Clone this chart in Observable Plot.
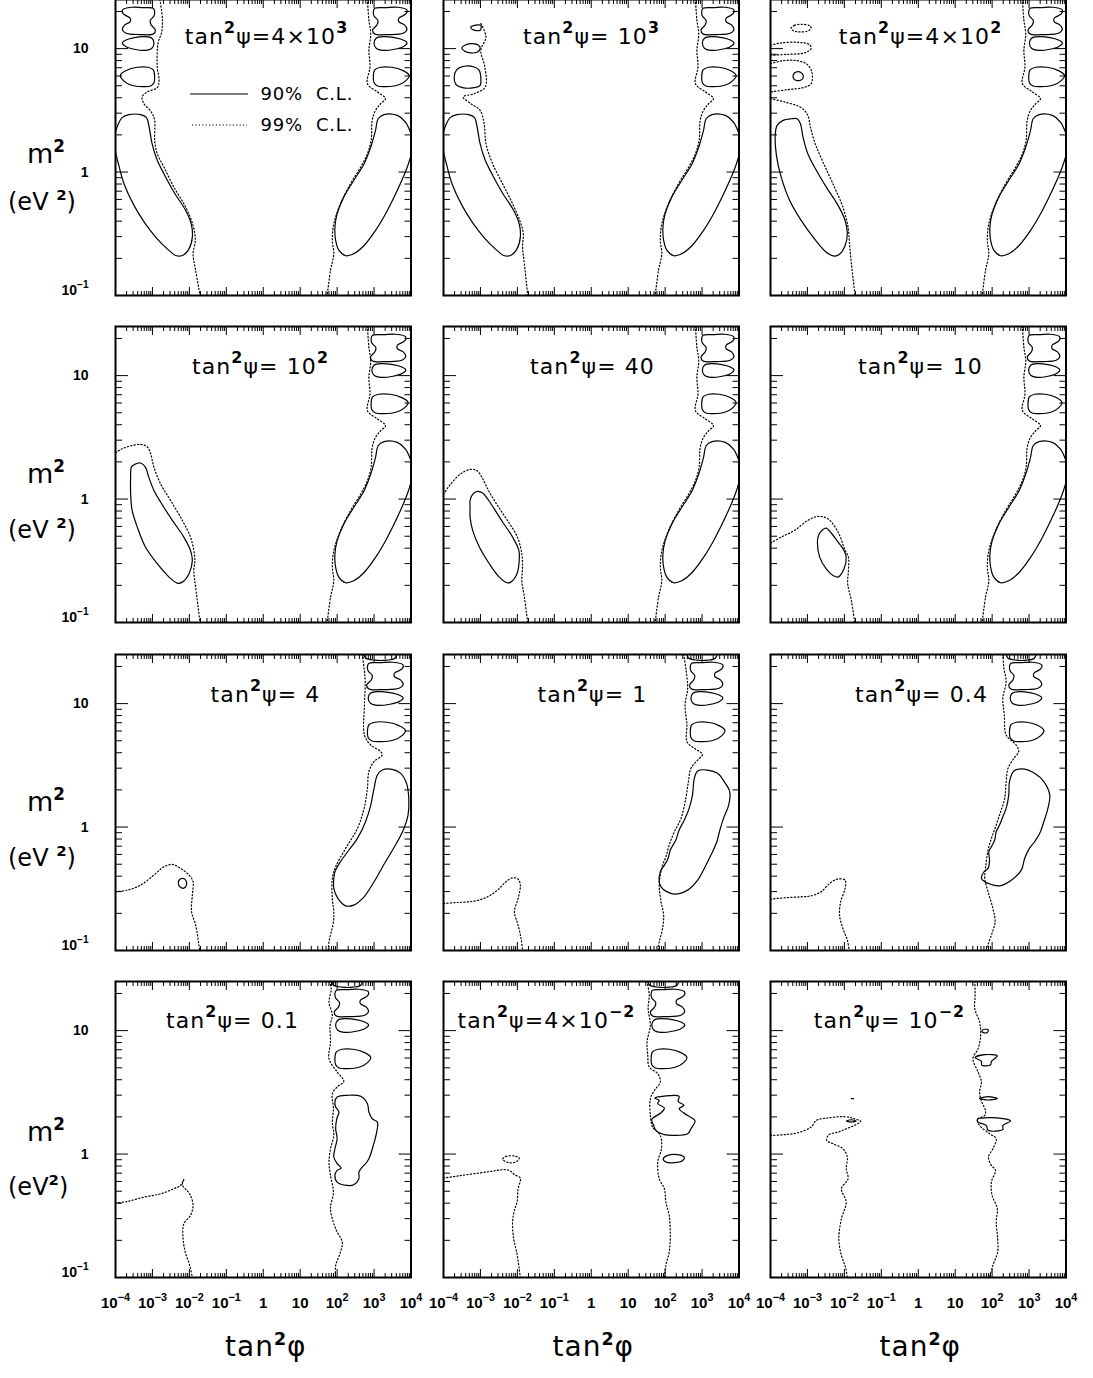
<!DOCTYPE html>
<html><head><meta charset="utf-8">
<script src="https://cdn.jsdelivr.net/npm/d3@7"></script>
<script src="https://cdn.jsdelivr.net/npm/@observablehq/plot@0.6"></script>
<style>
html,body{margin:0;padding:0;background:#fff;}
#chart{position:relative;width:1093px;height:1378px;overflow:hidden;background:#fff;}
</style></head><body><div id="chart"></div>
<script>
// ---------------- DATA (contour points as [log10(tan²φ), log10(m²/eV²)]) ----------------
const panelTitles = ["tan{2}ψ=4×10{3}","tan{2}ψ= 10{3}","tan{2}ψ=4×10{2}","tan{2}ψ= 10{2}","tan{2}ψ= 40","tan{2}ψ= 10",
  "tan{2}ψ= 4","tan{2}ψ= 1","tan{2}ψ= 0.4","tan{2}ψ= 0.1","tan{2}ψ=4×10{−2}","tan{2}ψ= 10{−2}"];
const xMajor = [1e-4,1e-3,1e-2,1e-1,1,10,1e2,1e3,1e4];
const xTickLabels = ["10{−4}","10{−3}","10{−2}","10{−1}","1","10","10{2}","10{3}","10{4}"];
const yMajor = [0.1,1,10];
const yTickLabels = ["10{−1}","1","10"];
const minorMult = [2,3,4,5,6,7,8,9];
const legendLabels = ["90%  C.L.","99%  C.L."];

// shared shapes
const bandLeft12 = [[-4.0,.324],[-3.94,.378],[-3.82,.441],[-3.64,.465],[-3.32,.465],[-3.16,.441],[-3.09,.365],[-3.01,.230],[-2.87,.095],[-2.69,-.014],[-2.42,-.162],[-2.10,-.311],[-1.95,-.419],[-1.92,-.527],[-2.01,-.622],[-2.19,-.676],[-2.37,-.676],[-2.60,-.622],[-2.87,-.541],[-3.19,-.419],[-3.50,-.270],[-3.77,-.095],[-3.91,.054],[-4.0,.162]];
const bandRight16 = [[4.0,.311],[3.85,.405],[3.63,.459],[3.27,.465],[3.11,.432],[3.04,.338],[2.91,.203],[2.73,.068],[2.45,-.068],[2.18,-.203],[2.00,-.338],[1.94,-.446],[1.96,-.554],[2.05,-.635],[2.23,-.678],[2.45,-.662],[2.73,-.595],[3.04,-.473],[3.36,-.311],[3.67,-.122],[3.90,.041],[4.0,.135]];
const dotRight16 = [[2.82,1.40],[2.86,1.23],[2.91,1.12],[2.86,.986],[2.89,.851],[2.82,.716],[3.09,.649],[3.31,.595],[3.18,.554],[3.04,.50],[2.95,.419],[2.92,.257],[2.82,.149],[2.64,.041],[2.36,-.095],[2.09,-.257],[1.91,-.419],[1.87,-.554],[1.91,-.662],[1.82,-.797],[1.73,-1.0]];
// island templates: [fraction across island width, log10 m²]
const islandA = [[0,.773],[.04,.827],[.20,.849],[.51,.849],[.83,.822],[1.0,.784],[.91,.741],[.67,.703],[.35,.692],[.12,.697],[.02,.724]];
const islandB = [[.02,1.043],[.08,1.084],[.28,1.097],[.59,1.089],[.83,1.070],[.94,1.046],[.83,1.016],[.59,.995],[.28,.986],[.08,1.003]];
const islandC = [[.04,1.327],[.35,1.332],[.67,1.335],[.94,1.313],[.91,1.281],[.71,1.246],[.71,1.219],[.87,1.192],[.94,1.157],[.83,1.124],[.43,1.114],[.04,1.119],[-.02,1.151],[.10,1.192],[.13,1.227],[.02,1.265],[0,1.30]];
const islandTop = [[-.1,1.42],[-.05,1.37],[.2,1.352],[.5,1.352],[.72,1.368],[.8,1.42]];
// island placement per panel: [left edge log10 tan²φ, width in decades]
const islandsRight = [[2.98,.97],[2.99,.93],[2.99,.97],[2.92,1.0],[2.99,.93],[2.97,.92],[2.82,1.03],[2.68,.94],[2.47,.93],[1.94,.97],[1.62,.97],null];
const islandsLeftMirror = [[-3.87,.93],null,null,null,null,null,null,null,null,null,null,null];
const islandTopShown = [false,false,false,false,false,false,true,true,true,true,true,false];

// panel 1
const dotLeft1 = [[-2.80,1.40],[-2.73,1.243],[-2.75,1.135],[-2.85,1.041],[-2.87,.851],[-2.82,.743],[-2.87,.684],[-3.14,.649],[-3.28,.608],[-3.23,.554],[-3.03,.486],[-2.94,.419],[-2.94,.257],[-2.87,.149],[-2.69,.041],[-2.42,-.122],[-2.10,-.284],[-1.90,-.432],[-1.84,-.554],[-1.90,-.662],[-1.83,-.797],[-1.71,-1.0]];
// panel 2
const isl2A = [[-3.711,.770],[-3.639,.830],[-3.44,.857],[-3.17,.851],[-3.034,.824],[-2.989,.757],[-3.007,.703],[-3.17,.684],[-3.486,.684],[-3.666,.711]];
const isl2B = [[-3.504,1.005],[-3.395,1.032],[-3.215,1.041],[-3.052,1.027],[-3.007,1.0],[-3.079,.973],[-3.26,.965],[-3.423,.978]];
const isl2C = [[-3.26,1.176],[-2.989,1.189],[-3.007,1.149],[-3.215,1.154]];
const dotLeft2 = [[-2.99,1.203],[-2.85,1.095],[-2.99,.986],[-2.88,.851],[-2.87,.689],[-3.17,.635],[-3.47,.608],[-3.26,.554],[-3.01,.50],[-2.90,.392],[-2.85,.230],[-2.67,.068],[-2.40,-.095],[-2.13,-.257],[-1.92,-.405],[-1.84,-.5],[-1.86,-.608],[-1.81,-.743],[-1.72,-1.0]];
// panel 3
const bandLeft3 = [[-3.87,.311],[-3.82,.378],[-3.66,.419],[-3.44,.432],[-3.28,.432],[-3.19,.392],[-3.12,.284],[-2.99,.149],[-2.76,.014],[-2.49,-.122],[-2.17,-.270],[-1.98,-.392],[-1.92,-.5],[-1.98,-.595],[-2.14,-.668],[-2.27,-.681],[-2.49,-.649],[-2.81,-.541],[-3.17,-.392],[-3.48,-.23],[-3.71,-.041],[-3.84,.135]];
const solidRing3 = [[-3.39,.776],[-3.35,.803],[-3.24,.814],[-3.14,.797],[-3.11,.770],[-3.17,.746],[-3.28,.741],[-3.37,.754]];
const dotLeft3 = [[-4.0,.595],[-3.62,.568],[-3.17,.522],[-2.99,.459],[-2.92,.365],[-2.79,.230],[-2.58,.081],[-2.31,-.095],[-2.04,-.284],[-1.90,-.446],[-1.86,-.581],[-1.81,-.743],[-1.71,-1.0]];
const dotRing3a = [[-3.44,1.168],[-3.35,1.189],[-3.17,1.197],[-2.94,1.186],[-2.90,1.165],[-2.99,1.143],[-3.21,1.135],[-3.39,1.146]];
const dotRing3b = [[-4.0,1.027],[-3.71,1.046],[-3.26,1.051],[-2.94,1.032],[-2.90,1.0],[-3.08,.965],[-3.53,.954],[-4.0,.946]];
const dotRing3c = [[-4.0,.878],[-3.71,.9],[-3.35,.905],[-3.03,.878],[-2.88,.811],[-2.90,.716],[-3.12,.684],[-3.53,.668],[-4.0,.649]];
// panel 4
const bandLeft4 = [[-3.59,.178],[-3.57,.259],[-3.48,.281],[-3.32,.292],[-3.19,.259],[-3.10,.178],[-2.96,.070],[-2.78,-.024],[-2.46,-.173],[-2.15,-.308],[-1.97,-.416],[-1.92,-.497],[-2.01,-.605],[-2.19,-.673],[-2.33,-.681],[-2.55,-.632],[-2.87,-.524],[-3.19,-.389],[-3.41,-.227],[-3.55,-.092],[-3.59,.043]];
const dotLeft4 = [[-4.0,.373],[-3.82,.408],[-3.59,.43],[-3.32,.443],[-3.14,.422],[-3.05,.368],[-2.96,.259],[-2.78,.124],[-2.51,-.011],[-2.19,-.173],[-1.97,-.308],[-1.88,-.416],[-1.85,-.497],[-1.88,-.578],[-1.83,-.714],[-1.71,-1.0]];
// panel 5
const bandLeft5 = [[-3.28,-.065],[-3.28,-.011],[-3.21,.038],[-3.08,.062],[-2.94,.049],[-2.81,.003],[-2.63,-.078],[-2.40,-.186],[-2.13,-.308],[-1.96,-.416],[-1.95,-.497],[-2.01,-.605],[-2.18,-.673],[-2.28,-.678],[-2.49,-.632],[-2.76,-.524],[-3.03,-.389],[-3.21,-.254],[-3.28,-.146]];
const dotLeft5 = [[-4.0,.038],[-3.80,.124],[-3.53,.205],[-3.26,.241],[-3.08,.227],[-2.94,.165],[-2.76,.057],[-2.54,-.051],[-2.27,-.173],[-2.00,-.308],[-1.88,-.443],[-1.86,-.551],[-1.88,-.659],[-1.81,-.795],[-1.72,-1.0]];
// panel 6
const bandLeft6 = [[-2.73,-.349],[-2.70,-.295],[-2.58,-.246],[-2.49,-.235],[-2.34,-.281],[-2.17,-.349],[-2.01,-.416],[-1.95,-.470],[-2.01,-.565],[-2.17,-.632],[-2.31,-.619],[-2.49,-.565],[-2.67,-.470]];
const dotLeft6 = [[-4.0,-.357],[-3.71,-.308],[-3.35,-.254],[-2.99,-.173],[-2.72,-.141],[-2.45,-.159],[-2.17,-.268],[-1.98,-.416],[-1.89,-.470],[-1.89,-.578],[-1.91,-.686],[-1.81,-.822],[-1.72,-1.0]];
// panel 7
const bandRight7 = [[1.91,-.416],[1.94,-.362],[2.09,-.281],[2.32,-.186],[2.55,-.092],[2.77,.043],[2.91,.178],[3.00,.314],[3.09,.422],[3.22,.462],[3.49,.468],[3.72,.435],[3.88,.354],[3.94,.232],[3.92,.097],[3.81,-.011],[3.58,-.146],[3.31,-.281],[3.00,-.443],[2.73,-.565],[2.45,-.632],[2.23,-.638],[2.02,-.578],[1.91,-.497]];
const ring7 = [[-2.30,-.457],[-2.27,-.427],[-2.18,-.416],[-2.09,-.435],[-2.08,-.470],[-2.15,-.495],[-2.25,-.486]];
const dotLeft7 = [[-4.0,-.524],[-3.68,-.511],[-3.32,-.470],[-2.96,-.389],[-2.69,-.322],[-2.46,-.303],[-2.24,-.335],[-2.01,-.389],[-1.90,-.443],[-1.92,-.551],[-1.94,-.686],[-1.83,-.795],[-1.74,-.957],[-1.72,-1.0]];
const dotRight7 = [[2.68,1.40],[2.73,1.286],[2.76,1.178],[2.74,.989],[2.74,.746],[2.91,.665],[3.18,.611],[3.22,.584],[3.00,.530],[2.86,.449],[2.82,.314],[2.73,.151],[2.55,-.011],[2.23,-.173],[1.96,-.322],[1.87,-.416],[1.87,-.578],[1.91,-.686],[1.90,-.768],[1.78,-.930],[1.76,-1.0]];
// panel 8
const bandRight8 = [[1.84,-.443],[1.87,-.362],[1.98,-.308],[2.08,-.254],[2.14,-.186],[2.29,-.105],[2.38,-.024],[2.52,.057],[2.65,.151],[2.74,.259],[2.79,.395],[2.88,.454],[3.15,.462],[3.42,.435],[3.60,.368],[3.75,.286],[3.72,.178],[3.58,.070],[3.47,-.038],[3.40,-.119],[3.24,-.227],[3.06,-.335],[2.88,-.430],[2.61,-.511],[2.25,-.543],[2.02,-.519],[1.89,-.484]];
const dotRight8 = [[2.50,1.40],[2.56,1.286],[2.61,1.124],[2.54,.989],[2.59,.827],[2.59,.692],[2.79,.638],[3.01,.589],[2.88,.543],[2.70,.476],[2.63,.368],[2.56,.232],[2.43,.070],[2.25,-.038],[2.11,-.146],[2.02,-.241],[1.93,-.308],[1.87,-.389],[1.84,-.470],[1.89,-.605],[1.96,-.714],[1.93,-.822],[1.84,-.930],[1.81,-1.0]];
const dotLeft8 = [[-4.0,-.619],[-3.62,-.611],[-3.17,-.600],[-2.81,-.565],[-2.54,-.511],[-2.31,-.443],[-2.13,-.411],[-1.98,-.422],[-1.92,-.470],[-1.98,-.578],[-2.08,-.686],[-1.98,-.795],[-1.90,-.903],[-1.86,-1.0]];
// panel 9
const bandRight9 = [[1.71,-.416],[1.78,-.362],[1.89,-.335],[1.93,-.268],[1.91,-.200],[1.98,-.159],[2.07,-.105],[2.11,-.038],[2.20,.016],[2.29,.084],[2.38,.151],[2.45,.259],[2.47,.368],[2.59,.454],[2.88,.470],[3.15,.435],[3.40,.368],[3.56,.259],[3.51,.151],[3.40,.043],[3.29,-.051],[3.15,-.119],[3.01,-.173],[2.88,-.254],[2.79,-.349],[2.52,-.430],[2.20,-.476],[1.98,-.465],[1.80,-.443]];
const dotRight9 = [[2.29,1.40],[2.32,1.286],[2.38,1.178],[2.29,1.043],[2.33,.908],[2.38,.746],[2.65,.665],[2.72,.611],[2.59,.557],[2.43,.476],[2.38,.368],[2.34,.232],[2.23,.124],[2.11,.016],[1.98,-.092],[1.89,-.186],[1.82,-.335],[1.80,-.416],[1.89,-.524],[2.02,-.659],[2.08,-.768],[1.98,-.876],[1.89,-.957],[1.89,-1.0]];
const dotLeft9 = [[-4.0,-.584],[-3.62,-.573],[-3.17,-.565],[-2.90,-.557],[-2.63,-.524],[-2.40,-.457],[-2.19,-.422],[-1.98,-.430],[-1.98,-.497],[-2.10,-.605],[-2.13,-.714],[-2.04,-.822],[-1.92,-.916],[-1.87,-1.0]];
// panel 10
const bandRight10 = [[1.94,.422],[2.00,.462],[2.27,.476],[2.64,.468],[2.82,.408],[2.86,.341],[2.95,.286],[3.09,.259],[3.07,.178],[2.98,.070],[2.86,-.038],[2.77,-.078],[2.68,-.105],[2.59,-.146],[2.59,-.200],[2.45,-.249],[2.27,-.254],[2.00,-.227],[1.94,-.173],[2.00,-.132],[2.11,-.114],[2.00,-.078],[1.91,-.024],[1.94,.043],[2.00,.124],[1.96,.205],[1.99,.286],[2.05,.341],[1.96,.381]];
const dotRight10 = [[1.78,1.40],[1.84,1.341],[1.78,1.232],[1.87,1.124],[1.81,1.043],[1.82,.908],[1.78,.773],[2.00,.665],[2.18,.589],[2.00,.543],[1.87,.489],[1.90,.368],[1.87,.259],[1.91,.151],[1.82,.043],[1.78,-.065],[1.82,-.173],[1.90,-.308],[1.82,-.443],[1.96,-.605],[2.14,-.714],[2.09,-.795],[1.96,-.903],[1.96,-1.0]];
const dotLeft10 = [[-4.0,-.397],[-3.68,-.384],[-3.23,-.349],[-2.78,-.322],[-2.42,-.281],[-2.24,-.254],[-2.15,-.205],[-2.19,-.25],[-2.05,-.30],[-1.97,-.335],[-1.90,-.416],[-1.97,-.497],[-2.15,-.565],[-2.17,-.686],[-2.11,-.795],[-1.99,-.903],[-1.92,-1.0]];
// panel 11
const blob11 = [[1.72,.454],[1.98,.470],[2.38,.468],[2.35,.427],[2.51,.395],[2.38,.368],[2.60,.314],[2.81,.270],[2.70,.205],[2.61,.165],[2.25,.151],[1.98,.157],[1.75,.192],[1.69,.232],[1.64,.281],[1.89,.335],[1.98,.373],[1.80,.408],[1.84,.435]];
const ell11 = [[1.95,-.038],[2.07,-.011],[2.34,-.005],[2.52,-.027],[2.47,-.054],[2.25,-.070],[2.02,-.065]];
const dotRight11 = [[1.51,1.40],[1.57,1.286],[1.54,1.178],[1.60,1.043],[1.51,.908],[1.53,.800],[1.57,.705],[1.80,.651],[1.87,.584],[1.71,.516],[1.60,.449],[1.60,.314],[1.66,.219],[1.87,.151],[1.90,.043],[1.80,-.065],[1.84,-.200],[1.98,-.281],[2.02,-.389],[2.11,-.497],[2.14,-.659],[2.11,-.795],[2.02,-.903],[1.98,-1.0]];
const dotLeft11 = [[-4.0,-.195],[-3.62,-.178],[-3.17,-.159],[-2.72,-.141],[-2.40,-.127],[-2.22,-.132],[-2.07,-.168],[-1.92,-.195],[-1.98,-.281],[-2.01,-.389],[-2.08,-.457],[-2.13,-.551],[-2.10,-.686],[-2.01,-.808],[-1.95,-.930],[-1.92,-1.0]];
const dotRing11 = [[-2.40,-.043],[-2.31,-.019],[-2.08,-.016],[-1.95,-.032],[-2.01,-.059],[-2.22,-.070]];
// panel 12
const sm12a = [[1.72,.997],[1.80,1.011],[1.90,1.003],[1.86,.984],[1.75,.986]];
const sm12b = [[1.54,.781],[1.80,.805],[2.14,.795],[1.98,.751],[1.96,.724],[1.72,.719],[1.71,.751]];
const sm12c = [[1.66,.451],[1.90,.465],[2.14,.451],[1.90,.438]];
const sm12d = [[1.60,.281],[1.98,.295],[2.50,.268],[2.29,.232],[2.29,.2],[1.89,.192],[1.84,.232],[1.62,.259]];
const sm12e = [[-1.95,.268],[-1.81,.278],[-1.68,.268],[-1.81,.259]];
const sm12f = [[-1.81,.449],[-1.75,.449]];
const dotRight12 = [[1.53,1.40],[1.54,1.286],[1.53,1.178],[1.66,1.07],[1.69,.962],[1.62,.854],[1.48,.773],[1.62,.665],[1.71,.584],[1.66,.503],[1.72,.422],[1.82,.354],[1.80,.314],[1.60,.281],[1.66,.232],[1.93,.165],[2.11,.124],[2.02,.043],[1.90,-.024],[1.98,-.092],[2.09,-.132],[1.98,-.227],[2.00,-.335],[2.14,-.443],[2.11,-.551],[2.15,-.686],[2.15,-.795],[2.02,-.903],[1.93,-1.0]];
const dotLeft12 = [[-4.0,.151],[-3.62,.157],[-3.26,.173],[-2.90,.219],[-2.76,.273],[-2.45,.292],[-2.00,.303],[-1.73,.286],[-1.56,.265],[-1.73,.232],[-1.95,.205],[-2.17,.178],[-2.42,.157],[-2.48,.111],[-2.31,.084],[-2.04,.043],[-1.92,-.024],[-1.95,-.119],[-1.90,-.200],[-2.08,-.281],[-1.95,-.389],[-2.08,-.524],[-2.15,-.686],[-2.08,-.822],[-1.97,-.916],[-1.92,-1.0]];

// which shapes belong to which panel
const panelSolidOpen = [[bandLeft12,bandRight16],[bandLeft12,bandRight16],[bandRight16],[bandRight16],[bandRight16],[bandRight16],[],[],[],[],[],[sm12f]];
const panelSolidClosed = [[],[isl2A,isl2B,isl2C],[bandLeft3,solidRing3],[bandLeft4],[bandLeft5],[bandLeft6],[bandRight7,ring7],[bandRight8],[bandRight9],[bandRight10],[blob11,ell11],[sm12a,sm12b,sm12c,sm12d,sm12e]];
const panelDotOpen = [[dotLeft1,dotRight16],[dotLeft2,dotRight16],[dotLeft3,dotRight16,dotRing3b,dotRing3c],[dotLeft4,dotRight16],[dotLeft5,dotRight16],[dotLeft6,dotRight16],[dotLeft7,dotRight7],[dotLeft8,dotRight8],[dotLeft9,dotRight9],[dotLeft10,dotRight10],[dotLeft11,dotRight11],[dotLeft12,dotRight12]];
const panelDotClosed = [[],[],[dotRing3a],[],[],[],[],[],[],[],[dotRing11],[]];

// ---------------- LAYOUT ----------------
const colLeft = [115, 442.5, 769.5];
const rowTop = [-1, 326, 653.5, 981];
const frameW = 295.5, frameH = 296, M = 16;
const titleCenterDx = [151,148,150,145,149,150,150,149,151,117,103,119];
const titleBaseDy = [44,47,47,46];
const mBase = [163,483,811,1141];
const eVBase = [210,538,866,1195];
const SVGNS = "http://www.w3.org/2000/svg";

function supify(root, supScale = 0.66) {
  root.querySelectorAll("text").forEach(t => {
    const s = t.textContent;
    if (!s.includes("{")) return;
    while (t.firstChild) t.removeChild(t.firstChild);
    let raised = false;
    const rise = 0.66 * supScale;
    s.split(/(\{[^}]*\})/).forEach(p => {
      if (!p) return;
      const ts = document.createElementNS(SVGNS, "tspan");
      if (p.startsWith("{")) {
        ts.textContent = p.slice(1, -1);
        ts.setAttribute("font-size", supScale + "em");
        ts.setAttribute("font-weight", "bold");
        ts.setAttribute("dy", "-0.66em");
        raised = true;
      } else {
        ts.textContent = p;
        if (raised) { ts.setAttribute("dy", rise + "em"); raised = false; }
      }
      t.appendChild(ts);
    });
  });
}

const series = (list, prefix) => list.flatMap((pts, k) => pts.map(([lx, ly]) => ({id: prefix + k, x: 10 ** lx, y: 10 ** ly})));
const placeIsland = (tpl, x0, w, mirror) => tpl.map(([u, ly]) => [x0 + (mirror ? 1 - u : u) * w, ly]);

const xMinor = xMajor.slice(0, -1).flatMap(d => minorMult.map(k => k * d));
const yMinor = [...[0.1, 1].flatMap(d => minorMult.map(k => k * d)), 20];
const yLabelFmt = d => yTickLabels[yMajor.indexOf(d)];

const chart = document.getElementById("chart");

for (let i = 0; i < 12; i++) {
  const r = Math.floor(i / 3), c = i % 3;
  const solidClosed = [...panelSolidClosed[i]];
  const solidOpen = [...panelSolidOpen[i]];
  if (islandsRight[i]) {
    const [x0, w] = islandsRight[i];
    solidClosed.push(...[islandA, islandB, islandC].map(t => placeIsland(t, x0, w, false)));
    if (islandTopShown[i]) solidOpen.push(placeIsland(islandTop, x0, w, false));
  }
  if (islandsLeftMirror[i]) {
    const [x0, w] = islandsLeftMirror[i];
    solidClosed.push(...[islandA, islandB, islandC].map(t => placeIsland(t, x0, w, true)));
  }
  const lineOpts = {x: "x", y: "y", z: "id", stroke: "#000", strokeWidth: 1.2, clip: true};
  const dotOpts = {...lineOpts, strokeWidth: 1.2, strokeDasharray: "1.2,2.2"};
  const marks = [
    Plot.line(series(solidOpen, "so"), {...lineOpts, curve: "catmull-rom"}),
    Plot.line(series(solidClosed, "sc"), {...lineOpts, curve: "catmull-rom-closed"}),
    Plot.line(series(panelDotOpen[i], "do"), {...dotOpts, curve: "catmull-rom"}),
    Plot.line(series(panelDotClosed[i], "dc"), {...dotOpts, curve: "catmull-rom-closed"}),
    Plot.axisX(xMajor, {anchor: "bottom", tickSize: -8, fill: "none", label: null}),
    Plot.axisX(xMinor, {anchor: "bottom", tickSize: -4, fill: "none", label: null}),
    Plot.axisX(xMajor, {anchor: "top", tickSize: -8, fill: "none", label: null}),
    Plot.axisX(xMinor, {anchor: "top", tickSize: -4, fill: "none", label: null}),
    Plot.axisY(yMajor, {anchor: "left", tickSize: -13, fill: "none", label: null}),
    Plot.axisY(yMinor, {anchor: "left", tickSize: -7, fill: "none", label: null}),
    Plot.axisY(yMajor, {anchor: "right", tickSize: -13, fill: "none", label: null}),
    Plot.axisY(yMinor, {anchor: "right", tickSize: -7, fill: "none", label: null}),
    Plot.frame({stroke: "#000", strokeWidth: 2}),
    Plot.text([panelTitles[i]], {frameAnchor: "top-left", dx: titleCenterDx[i], dy: titleBaseDy[r], textAnchor: "middle", lineAnchor: "bottom", fontSize: 22, fontFamily: "DejaVu Sans", fill: "#000"})
  ];
  if (c === 0) {
    const yLab = {anchor: "left", tickSize: 0, tickPadding: 27, tickFormat: yLabelFmt, fontWeight: "bold", fontSize: 14, fontFamily: "Liberation Sans", fill: "#000", label: null};
    marks.push(Plot.axisY(yMajor.slice(1), yLab));
    marks.push(Plot.axisY(yMajor.slice(0, 1), {...yLab, dy: -5}));
  }
  if (r === 3) marks.push(Plot.axisX(xMajor, {anchor: "bottom", tickSize: 0, tickPadding: 20, tickFormat: d => xTickLabels[xMajor.indexOf(d)], fontWeight: "bold", fontSize: 15, fontFamily: "Liberation Sans", fill: "#000", label: null}));
  if (i === 0) {
    marks.push(Plot.text([legendLabels[0]], {frameAnchor: "top-left", dx: 145, dy: 95, lineAnchor: "middle", textAnchor: "start", fontSize: 18, fontFamily: "DejaVu Sans", fill: "#000"}));
    marks.push(Plot.text([legendLabels[1]], {frameAnchor: "top-left", dx: 145, dy: 126, lineAnchor: "middle", textAnchor: "start", fontSize: 18, fontFamily: "DejaVu Sans", fill: "#000"}));
    marks.push((index, scales, values, dims) => {
      const g = d3.create("svg:g").attr("stroke", "#000").attr("fill", "none");
      g.append("line").attr("x1", dims.marginLeft + 75).attr("x2", dims.marginLeft + 133)
        .attr("y1", dims.marginTop + 95).attr("y2", dims.marginTop + 95).attr("stroke-width", 1.2);
      g.append("line").attr("x1", dims.marginLeft + 77).attr("x2", dims.marginLeft + 132)
        .attr("y1", dims.marginTop + 126).attr("y2", dims.marginTop + 126).attr("stroke-width", 1.2).attr("stroke-dasharray", "1.2,2.2");
      return g.node();
    });
  }
  const svg = Plot.plot({
    width: frameW + 2 * M, height: frameH + 2 * M,
    marginLeft: M, marginRight: M, marginTop: M, marginBottom: M,
    x: {type: "log", domain: [1e-4, 1e4]},
    y: {type: "log", domain: [0.1, 25]},
    style: {overflow: "visible", background: "transparent", fontFamily: "Liberation Sans", color: "#000"},
    marks
  });
  svg.querySelectorAll("text").forEach(t => {
    const s = t.textContent;
    if (s.startsWith("tan")) t.setAttribute("letter-spacing", "1.1");
    if (s.startsWith("9")) t.setAttribute("letter-spacing", "0.8");
  });
  supify(svg, 0.72);
  svg.style.position = "absolute";
  svg.style.left = (colLeft[c] - M) + "px";
  svg.style.top = (rowTop[r] - M) + "px";
  svg.style.maxWidth = "none";
  chart.appendChild(svg);
}

// outer axis titles
const overlay = d3.create("svg").attr("width", 1093).attr("height", 1378)
  .style("position", "absolute").style("left", "0px").style("top", "0px")
  .attr("font-family", "DejaVu Sans").attr("fill", "#000");
for (let r = 0; r < 4; r++) {
  overlay.append("text").attr("x", 27).attr("y", mBase[r]).attr("font-size", 27).text("m{2}");
  overlay.append("text").attr("x", 8).attr("y", eVBase[r]).attr("font-size", 24).text(r < 3 ? "(eV {2})" : "(eV{2})");
}
for (let c = 0; c < 3; c++) {
  overlay.append("text").attr("x", colLeft[c] + frameW / 2 + 3).attr("y", 1356)
    .attr("text-anchor", "middle").attr("font-size", 28).attr("letter-spacing", 1).text("tan{2}φ");
}
supify(overlay.node(), 0.62);
chart.insertBefore(overlay.node(), chart.firstChild);
</script></body></html>
